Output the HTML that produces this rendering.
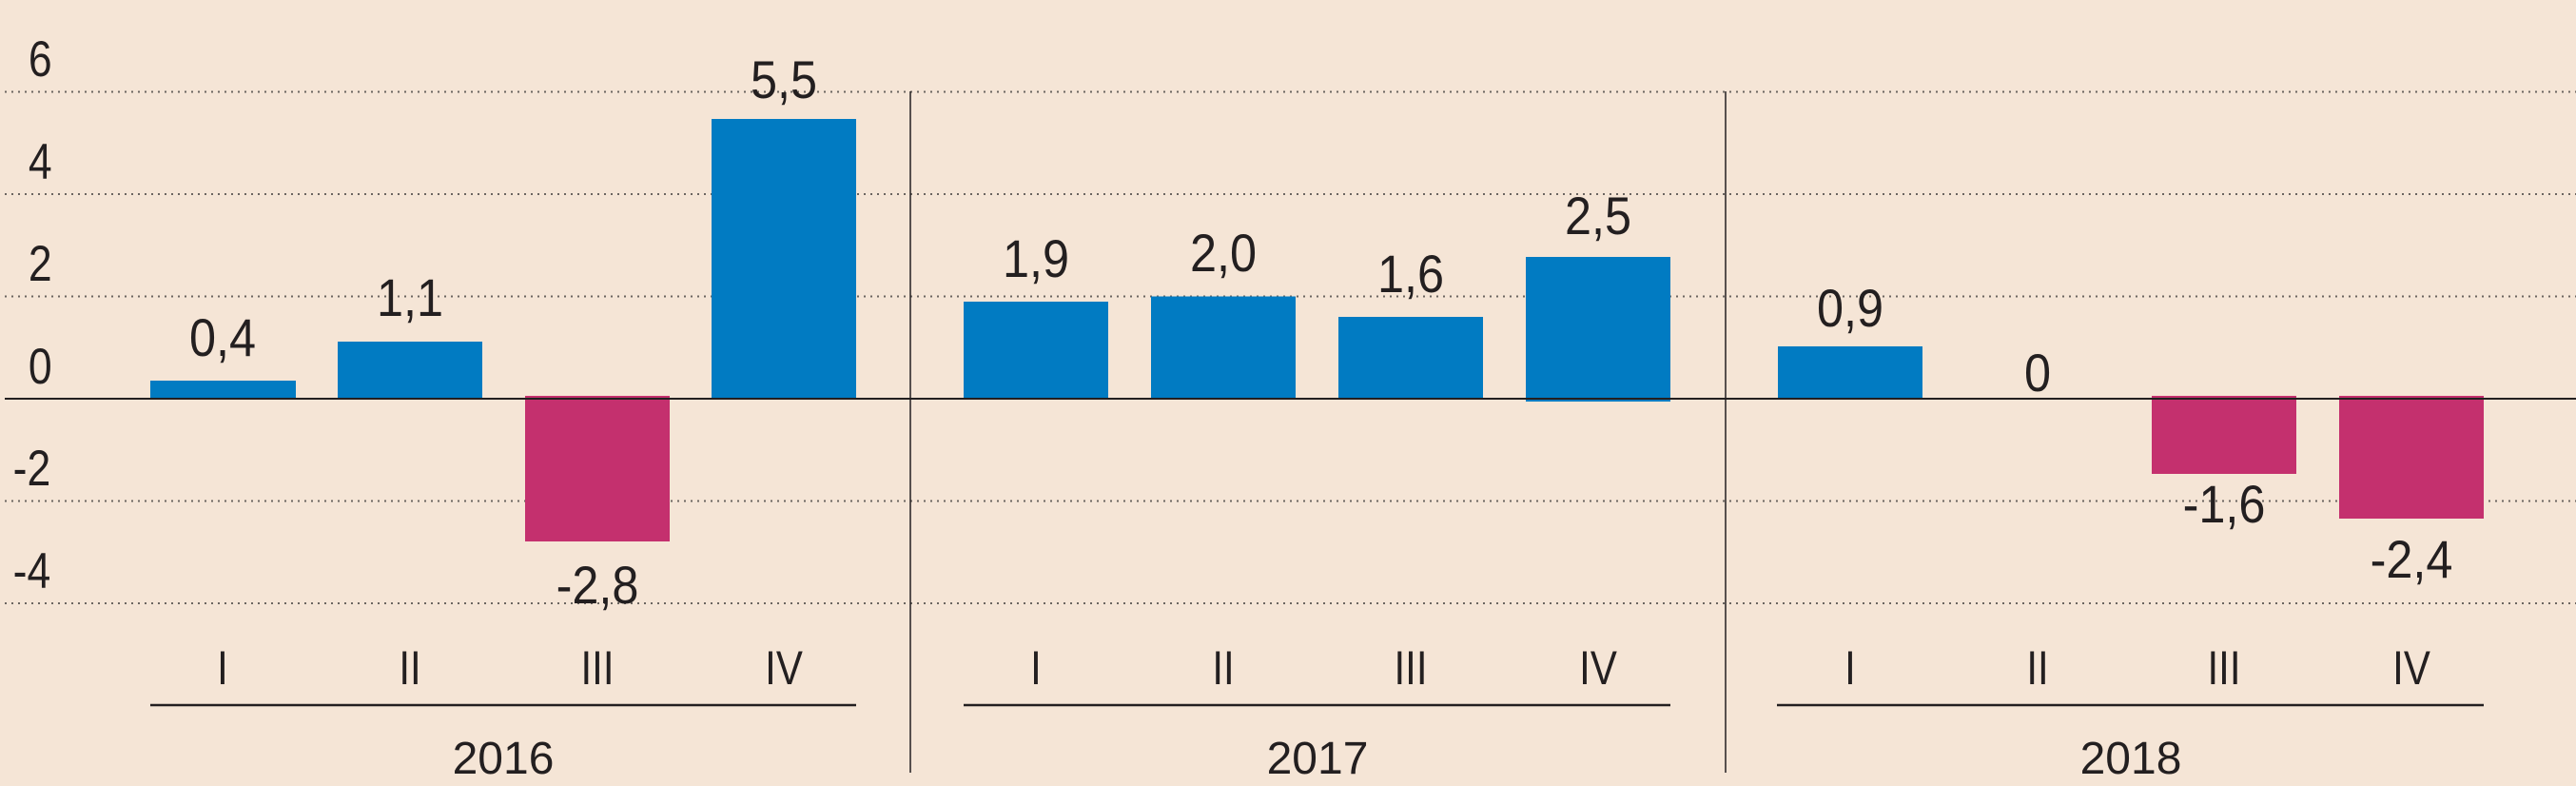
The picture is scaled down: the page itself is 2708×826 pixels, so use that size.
<!DOCTYPE html>
<html><head><meta charset="utf-8"><style>
html,body{margin:0;padding:0;background:#f5e5d6;}
svg{display:block;}
text{font-family:"Liberation Sans",sans-serif;fill:#231f20;transform-box:fill-box;transform-origin:center;transform:scaleX(0.84);}
.v text{transform:scaleX(0.9);}
.yr text{transform:none;}
</style></head><body>
<svg width="2708" height="826" viewBox="0 0 2708 826" xmlns="http://www.w3.org/2000/svg">
<rect width="2708" height="826" fill="#f5e5d6"/>
<g stroke="#6b6560" stroke-width="2" stroke-dasharray="2 5">
<line x1="5" y1="96.5" x2="2708" y2="96.5"/>
<line x1="5" y1="204" x2="2708" y2="204"/>
<line x1="5" y1="311.5" x2="2708" y2="311.5"/>
<line x1="5" y1="526.5" x2="2708" y2="526.5"/>
<line x1="5" y1="634" x2="2708" y2="634"/>
</g>
<g font-size="53" text-anchor="end">
<text x="57" y="80">6</text>
<text x="57" y="188">4</text>
<text x="57" y="295">2</text>
<text x="57" y="403">0</text>
<text x="57" y="510">-2</text>
<text x="57" y="618">-4</text>
</g>
<g fill="#017bc2">
<rect x="158" y="400" width="153" height="19"/>
<rect x="355" y="359" width="152" height="60"/>
<rect x="748" y="125" width="152" height="294"/>
<rect x="1013" y="317" width="152" height="102"/>
<rect x="1210" y="311.5" width="152" height="107.5"/>
<rect x="1407" y="333" width="152" height="86"/>
<rect x="1604" y="270" width="152" height="152"/>
<rect x="1869" y="364" width="152" height="55"/>
</g>
<g fill="#c4306e">
<rect x="552" y="416" width="152" height="153"/>
<rect x="2262" y="416" width="152" height="82"/>
<rect x="2459" y="416" width="152" height="129"/>
</g>
<line x1="5" y1="419" x2="2708" y2="419" stroke="#231f20" stroke-width="2"/>
<line x1="957" y1="96" x2="957" y2="812" stroke="#231f20" stroke-width="1.5"/>
<line x1="1814" y1="96" x2="1814" y2="812" stroke="#231f20" stroke-width="1.5"/>
<g class="v" font-size="56" text-anchor="middle">
<text x="234" y="374">0,4</text>
<text x="431" y="332">1,1</text>
<text x="628" y="634">-2,8</text>
<text x="824" y="103">5,5</text>
<text x="1089" y="291">1,9</text>
<text x="1286" y="285">2,0</text>
<text x="1483" y="307">1,6</text>
<text x="1680" y="246">2,5</text>
<text x="1945" y="343">0,9</text>
<text x="2142" y="411">0</text>
<text x="2338" y="549">-1,6</text>
<text x="2535" y="607">-2,4</text>
</g>
<g font-size="50" text-anchor="middle">
<text x="234" y="719">I</text><text x="431" y="719">II</text><text x="628" y="719">III</text><text x="824" y="719">IV</text>
<text x="1089" y="719">I</text><text x="1286" y="719">II</text><text x="1483" y="719">III</text><text x="1680" y="719">IV</text>
<text x="1945" y="719">I</text><text x="2142" y="719">II</text><text x="2338" y="719">III</text><text x="2535" y="719">IV</text>
</g>
<g stroke="#231f20" stroke-width="2.5">
<line x1="158" y1="741" x2="900" y2="741"/>
<line x1="1013" y1="741" x2="1756" y2="741"/>
<line x1="1868" y1="741" x2="2611" y2="741"/>
</g>
<g class="yr" font-size="48" text-anchor="middle">
<text x="529" y="813">2016</text>
<text x="1385" y="813">2017</text>
<text x="2240" y="813">2018</text>
</g>
</svg>
</body></html>
